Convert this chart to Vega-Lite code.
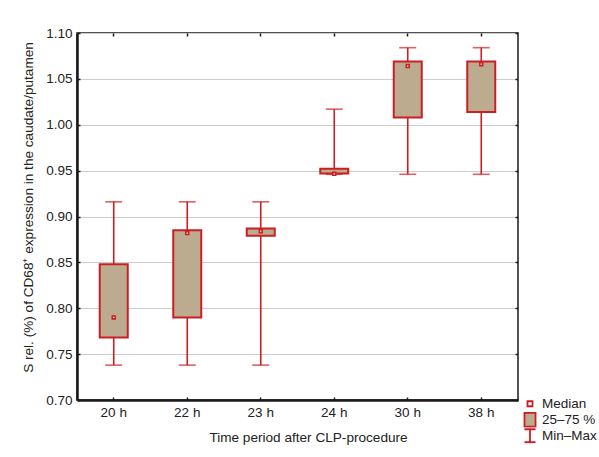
{
  "$schema": "https://vega.github.io/schema/vega-lite/v6.json",
  "width": 441,
  "height": 367,
  "autosize": {"type": "none"},
  "padding": {"left": 77, "top": 33, "right": 81, "bottom": 57},
  "background": "white",
  "config": {
    "font": "Liberation Sans",
    "view": {"stroke": "#1a1a1a", "strokeWidth": 1.5},
    "axis": {
      "labelFont": "Liberation Sans",
      "titleFont": "Liberation Sans",
      "labelFontSize": 13.5,
      "titleFontSize": 13.6,
      "titleFontWeight": "normal",
      "labelColor": "#222222",
      "titleColor": "#222222",
      "domainColor": "#1a1a1a",
      "tickColor": "#1a1a1a",
      "gridColor": "#cccccc",
      "gridWidth": 1
    },
    "legend": {
      "labelFont": "Liberation Sans",
      "labelFontSize": 13.5,
      "labelColor": "#222222"
    }
  },
  "data": {
    "values": [
      {"t": "20 h", "min": 0.738, "q1": 0.768, "med": 0.790, "q3": 0.848, "max": 0.916},
      {"t": "22 h", "min": 0.738, "q1": 0.790, "med": 0.882, "q3": 0.885, "max": 0.916},
      {"t": "23 h", "min": 0.738, "q1": 0.879, "med": 0.884, "q3": 0.887, "max": 0.916},
      {"t": "24 h", "min": 0.946, "q1": 0.947, "med": 0.9465, "q3": 0.952, "max": 1.017},
      {"t": "30 h", "min": 0.946, "q1": 1.008, "med": 1.064, "q3": 1.069, "max": 1.084},
      {"t": "38 h", "min": 0.946, "q1": 1.014, "med": 1.066, "q3": 1.069, "max": 1.084}
    ]
  },
  "layer": [
    {
      "mark": {"type": "rule", "color": "#cc1f24", "strokeWidth": 1.6},
      "encoding": {
        "x": {
          "field": "t", "type": "nominal", "sort": null,
          "scale": {"paddingInner": 0, "paddingOuter": 0},
          "axis": {"orient": "bottom", "title": "Time period after CLP-procedure", "labelAngle": 0, "domainWidth": 2.5, "tickSize": -3, "tickWidth": 1.5, "labelPadding": 8, "titlePadding": 12, "titleX": 231, "grid": false}
        },
        "y": {
          "field": "min", "type": "quantitative",
          "scale": {"domain": [0.7, 1.1], "nice": false, "zero": false},
          "axis": {"orient": "left", "title": "S rel. (%) of CD68⁺ expression in the caudate/putamen", "values": [0.7, 0.75, 0.8, 0.85, 0.9, 0.95, 1.0, 1.05, 1.1], "format": ".2f", "domainWidth": 2.5, "tickSize": -3, "tickWidth": 1.5, "labelPadding": 8, "titlePadding": 10, "titleY": 174, "grid": true}
        },
        "y2": {"field": "max"}
      }
    },
    {
      "mark": {"type": "tick", "color": "#cc1f24", "thickness": 1.6, "size": 17},
      "encoding": {
        "x": {"field": "t", "type": "nominal", "sort": null, "axis": {"orient": "top", "labels": false, "title": null, "domain": false, "tickSize": -3, "tickWidth": 1.5, "grid": false}},
        "y": {"field": "min", "type": "quantitative", "axis": {"orient": "right", "labels": false, "title": null, "domain": false, "tickSize": -3, "tickWidth": 1.5, "grid": false, "values": [0.7, 0.75, 0.8, 0.85, 0.9, 0.95, 1.0, 1.05, 1.1]}}
      }
    },
    {
      "mark": {"type": "tick", "color": "#cc1f24", "thickness": 1.6, "size": 17},
      "encoding": {
        "x": {"field": "t", "type": "nominal", "sort": null, "axis": null},
        "y": {"field": "max", "type": "quantitative", "axis": null}
      }
    },
    {
      "mark": {"type": "bar", "size": 28, "fill": "#bcab8e", "stroke": "#cc1f24", "strokeWidth": 2},
      "encoding": {
        "x": {"field": "t", "type": "nominal", "sort": null, "axis": null},
        "y": {"field": "q1", "type": "quantitative", "axis": null},
        "y2": {"field": "q3"}
      }
    },
    {
      "mark": {"type": "point", "filled": true, "stroke": "#cc1f24", "strokeWidth": 1.6, "size": 64, "opacity": 1},
      "encoding": {
        "x": {"field": "t", "type": "nominal", "sort": null, "axis": null},
        "y": {"field": "med", "type": "quantitative", "axis": null},
        "shape": {
          "datum": "Median",
          "scale": {"domain": ["Median", "25–75 %", "Min–Max"], "range": ["M-0.36,-0.36H0.36V0.36H-0.36Z", "M-0.79,-1H0.79V1H-0.79Z", "M-0.79,-0.93H0.79M0,-0.93V0.93M-0.79,0.93H0.79"]},
          "legend": {"orient": "none", "legendX": 445, "legendY": 363, "title": null, "symbolSize": 196, "symbolStrokeWidth": 1.8, "labelOffset": 4, "rowPadding": 0, "clipHeight": 15.5, "padding": 0}
        },
        "fill": {
          "datum": "Median",
          "scale": {"domain": ["Median", "25–75 %", "Min–Max"], "range": ["#ffffff", "#bcab8e", "#ffffff"]},
          "legend": {"orient": "none", "legendX": 445, "legendY": 363, "title": null, "symbolSize": 196, "symbolStrokeWidth": 1.8, "labelOffset": 4, "rowPadding": 0, "clipHeight": 15.5, "padding": 0}
        }
      }
    }
  ],
  "resolve": {"axis": {"x": "independent", "y": "independent"}}
}
